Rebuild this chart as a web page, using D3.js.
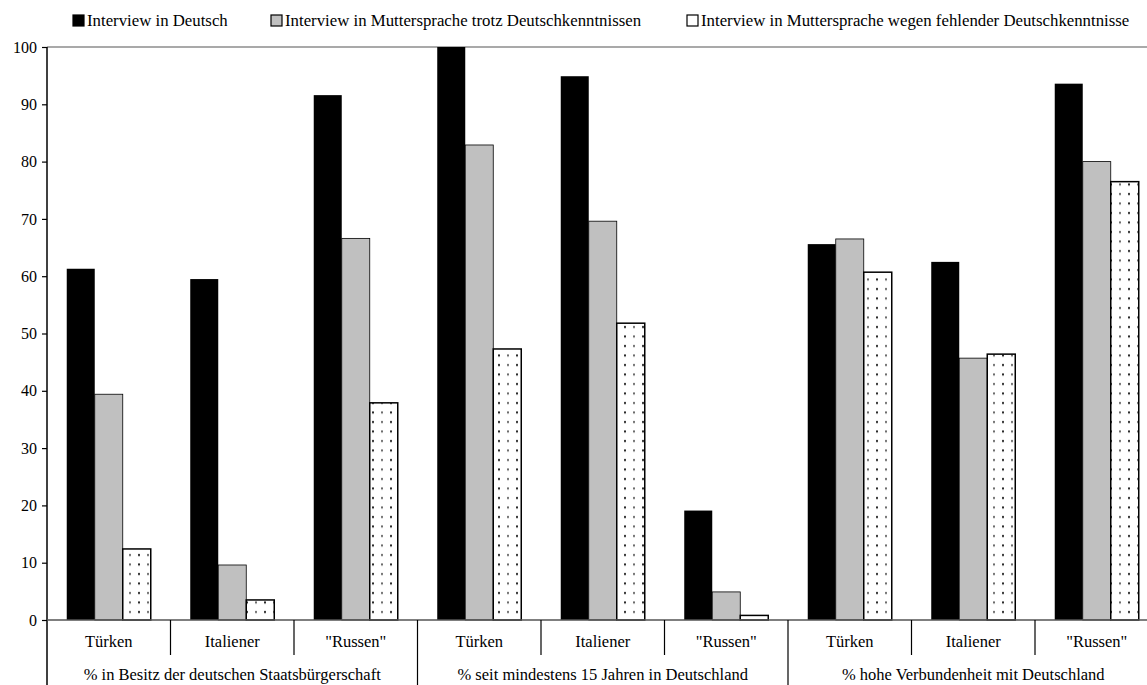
<!DOCTYPE html>
<html>
<head>
<meta charset="utf-8">
<script src="https://cdn.jsdelivr.net/npm/d3@7"></script>
<style>
  body { margin: 0; background: #fff; }
  svg { display: block; font-family: "Liberation Serif", "DejaVu Serif", serif; }
</style>
</head>
<body>
<svg id="chart" width="1147" height="685"></svg>
<script>
// data
var groups = ["% in Besitz der deutschen Staatsbürgerschaft",
              "% seit mindestens 15 Jahren in Deutschland",
              "% hohe Verbundenheit mit Deutschland"];
var nations = ["Türken", "Italiener", "\"Russen\""];
var series = ["Interview in Deutsch",
              "Interview in Muttersprache trotz Deutschkenntnissen",
              "Interview in Muttersprache wegen fehlender Deutschkenntnisse"];
var deutsch     = [61.3, 59.5, 91.6, 100, 94.9, 19.1, 65.6, 62.5, 93.6];
var trotz       = [39.4,  9.6, 66.6, 82.9, 69.6, 4.9, 66.5, 45.7, 80.0];
var fehlend     = [12.4,  3.5, 37.9, 47.3, 51.8, 0.8, 60.7, 46.4, 76.5];
var yTicks = [0, 10, 20, 30, 40, 50, 60, 70, 80, 90, 100];

var cats = [];
groups.forEach(function(g, gi) {
    nations.forEach(function(n, ni) { cats.push(gi + "|" + ni); });
});
var values = [deutsch, trotz, fehlend];

var svg = d3.select("#chart");
var plotLeft = 47, plotTop = 47, zero = 620;
var step = 123.5;

var defs = svg.append("defs");
var pat = defs.append("pattern")
    .attr("id", "dots")
    .attr("patternUnits", "userSpaceOnUse")
    .attr("width", 18).attr("height", 9.5);
pat.append("rect").attr("width", 18).attr("height", 9.5).attr("fill", "#fff");
pat.append("rect").attr("x", 3).attr("y", 3).attr("width", 2).attr("height", 2).attr("fill", "#666");
pat.append("rect").attr("x", 12).attr("y", 3).attr("width", 2).attr("height", 2).attr("fill", "#222");

var x0 = d3.scaleBand().domain(cats).range([plotLeft, plotLeft + step * cats.length]);
var x1 = d3.scaleBand().domain(d3.range(3)).range([0, x0.bandwidth()]).paddingOuter(0.705);
var y = d3.scaleLinear().domain([0, 100]).range([zero, plotTop]);

var fills = ["#000", "#c0c0c0", "url(#dots)"];

// top border line
svg.append("line")
    .attr("x1", plotLeft).attr("x2", 1147)
    .attr("y1", y(100)).attr("y2", y(100))
    .attr("stroke", "#8c8c8c").attr("stroke-width", 1.5);

// bars
values.forEach(function(vals, si) {
    svg.append("g").selectAll("rect")
        .data(vals)
        .enter()
        .append("rect")
        .attr("x", function(d, i) { return x0(cats[i]) + x1(si); })
        .attr("y", function(d) { return y(d); })
        .attr("width", x1.bandwidth())
        .attr("height", function(d) { return zero - y(d); })
        .attr("fill", fills[si])
        .attr("stroke", si == 0 ? "none" : "#000")
        .attr("stroke-width", si == 2 ? 1.5 : 0.8);
});

// y axis
var yAxis = d3.axisLeft(y).tickValues(yTicks).tickSize(5).tickPadding(5);
var ya = svg.append("g")
    .attr("transform", "translate(" + plotLeft + ",0)")
    .call(yAxis);
ya.select(".domain").remove();
ya.selectAll("line").attr("stroke", "#000").attr("stroke-width", 1.2);
ya.selectAll("text").attr("font-size", 16).attr("fill", "#000")
    .attr("font-family", "Liberation Serif, serif");
svg.append("line")
    .attr("x1", plotLeft).attr("x2", plotLeft)
    .attr("y1", plotTop).attr("y2", 685)
    .attr("stroke", "#000").attr("stroke-width", 1.5);

// x baseline
svg.append("line")
    .attr("x1", plotLeft).attr("x2", 1147)
    .attr("y1", zero).attr("y2", zero)
    .attr("stroke", "#555").attr("stroke-width", 1.5);

// category separators
cats.forEach(function(c, i) {
    if (i == 0) return;
    var xx = x0(c);
    svg.append("line")
        .attr("x1", xx).attr("x2", xx)
        .attr("y1", zero).attr("y2", i % 3 == 0 ? 685 : 655)
        .attr("stroke", "#000").attr("stroke-width", 1.2);
});

// category labels
svg.append("g").selectAll("text")
    .data(cats)
    .enter()
    .append("text")
    .attr("x", function(d) { return x0(d) + x0.bandwidth() / 2; })
    .attr("y", 647)
    .attr("text-anchor", "middle")
    .attr("font-size", 16.5)
    .text(function(d) { return nations[+d.split("|")[1]]; });

// group labels
svg.append("g").selectAll("text")
    .data(groups)
    .enter()
    .append("text")
    .attr("x", function(d, gi) { return x0(cats[gi * 3]) + step * 1.5; })
    .attr("y", 680)
    .attr("text-anchor", "middle")
    .attr("font-size", 16.5)
    .text(function(d) { return d; });

// legend
var legX = [73, 271, 687];
var leg = svg.append("g");
series.forEach(function(s, i) {
    leg.append("rect")
        .attr("x", legX[i]).attr("y", 15)
        .attr("width", 11).attr("height", 11)
        .attr("fill", i == 0 ? "#000" : (i == 1 ? "#c0c0c0" : "#fff"))
        .attr("stroke", "#000").attr("stroke-width", 1.2);
    leg.append("text")
        .attr("x", legX[i] + 14).attr("y", 26)
        .attr("font-size", 16.8)
        .text(s);
});
</script>
</body>
</html>
